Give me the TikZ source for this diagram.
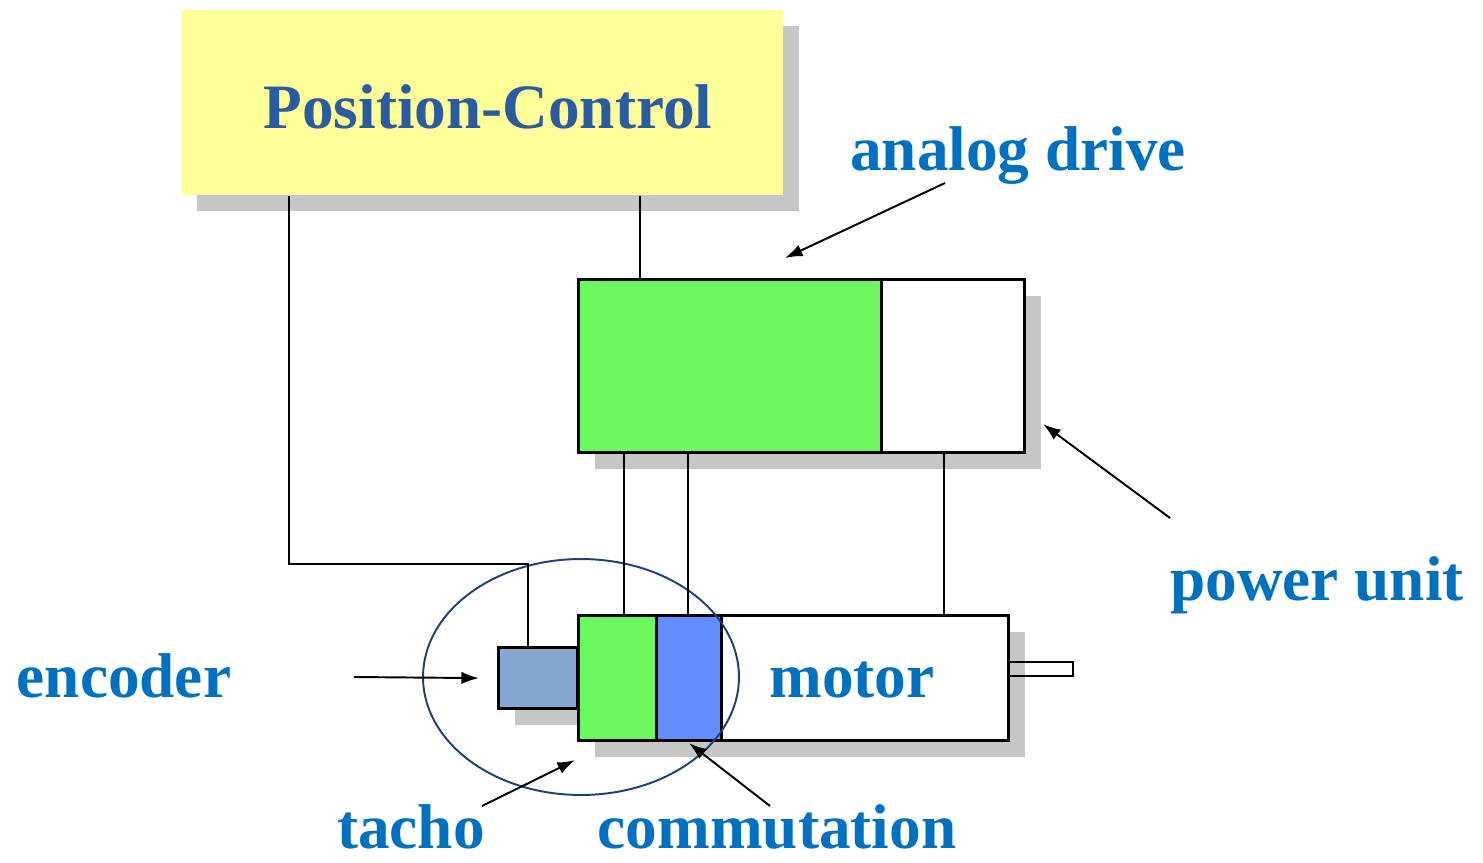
\documentclass[tikz,border=0pt]{standalone}
\usepackage{fontspec}
\setmainfont{Liberation Serif}
\usetikzlibrary{shapes.geometric, arrows.meta, shadows}
\definecolor{pcyellow}{HTML}{FFFF99}
\definecolor{pcblue}{HTML}{2B5CA0}
\definecolor{lblblue}{HTML}{0070C0}
\definecolor{drvgreen}{HTML}{6BF95E}
\definecolor{combblue}{HTML}{638DFF}
\definecolor{encblue}{HTML}{85A8D1}
\definecolor{ringblue}{HTML}{1F3F78}
\definecolor{shadowgray}{HTML}{C6C6C6}
\tikzstyle{block} = [rectangle, draw, line width=1.8pt, inner sep=0pt, anchor=north west,
    drop shadow={shadow xshift=0.32cm, shadow yshift=-0.32cm, fill=shadowgray, opacity=1}]
\tikzstyle{lbl} = [text=lblblue, anchor=base, inner sep=0pt, font=\bfseries\fontsize{36}{40}\selectfont]
\tikzstyle{wire} = [draw, line width=1.1pt]
\tikzstyle{line} = [draw, line width=1.1pt, -{Latex[length=10pt, width=7pt]}]

\begin{document}
\begin{tikzpicture}[x=0.02cm, y=-0.02cm]
                \useasboundingbox (0,0) rectangle (1483,862);
                \node [block, draw=none, fill=pcyellow, minimum width=12.06cm, minimum height=3.7cm] at (179,8) (pc) {};
                \node [text=pcblue, anchor=base, font=\bfseries\fontsize{36}{40}\selectfont] at (488,128) (pctext) {Position-Control};
                \node [block, fill=drvgreen, minimum width=6.06cm, minimum height=3.46cm] at (577,278) (drive) {};
                \node [block, fill=white, minimum width=2.86cm, minimum height=3.46cm] at (880,278) (power) {};
                \node [block, fill=encblue, minimum width=1.58cm, minimum height=1.22cm] at (497,646) (enc) {};
                \node [block, fill=drvgreen, minimum width=1.56cm, minimum height=2.5cm] at (577,614) (tacho) {};
                \node [block, fill=combblue, minimum width=1.3cm, minimum height=2.5cm] at (655,614) (commut) {};
                \node [block, fill=white, minimum width=5.74cm, minimum height=2.5cm] at (720,614) (motor) {};
                \node [rectangle, draw, line width=1.1pt, minimum width=1.3cm, minimum height=0.28cm, anchor=north west] at (1007,661) (shaft) {};
                \node [lbl] at (852,697) (motortext) {motor};
                \node [ellipse, draw=ringblue, line width=1.1pt, minimum width=6.32cm, minimum height=4.72cm] at (581,677) (ring) {};
                \node [lbl] at (1018,170) (adrive) {analog drive};
                \node [lbl] at (1317,600) (punit) {power unit};
                \node [lbl] at (124,697) (encoder) {encoder};
                \node [lbl] at (411,848) (tachotext) {tacho};
                \node [lbl] at (777,848) (commtext) {commutation};
                \path [wire] ([xshift=1.26cm]drive.north west) -- ([xshift=1.26cm]drive.north west |- pc.south);
                \path [wire] ([xshift=2.2cm]pc.south west) |- ([xshift=0.62cm, yshift=1.64cm]enc.north west) -- ([xshift=0.62cm]enc.north west);
                \path [wire] ([xshift=0.94cm]drive.south west) -- ([xshift=0.94cm]tacho.north west);
                \path [wire] ([xshift=2.22cm]drive.south west) -- ([xshift=0.66cm]commut.north west);
                \path [wire] ([xshift=1.28cm]power.south west) -- ([xshift=4.48cm]motor.north west);
                \path [line] ([xshift=-1.46cm, yshift=-0.26cm]adrive.base) -- ([xshift=4.16cm, yshift=0.4cm]drive.north west);
                \path [line] ([xshift=-2.94cm, yshift=1.64cm]punit.base) -- ([xshift=0.34cm, yshift=0.6cm]power.south east);
                \path [line] ([xshift=4.6cm, yshift=0.4cm]encoder.base) -- ([xshift=-0.36cm]enc.west);
                \path [line] ([xshift=1.42cm, yshift=0.84cm]tachotext.base) -- ([xshift=-0.04cm, yshift=-0.36cm]tacho.south west);
                \path [line] ([xshift=-0.14cm, yshift=0.84cm]commtext.base) -- ([yshift=-0.02cm]commut.south);
            \end{tikzpicture}
\end{document}
